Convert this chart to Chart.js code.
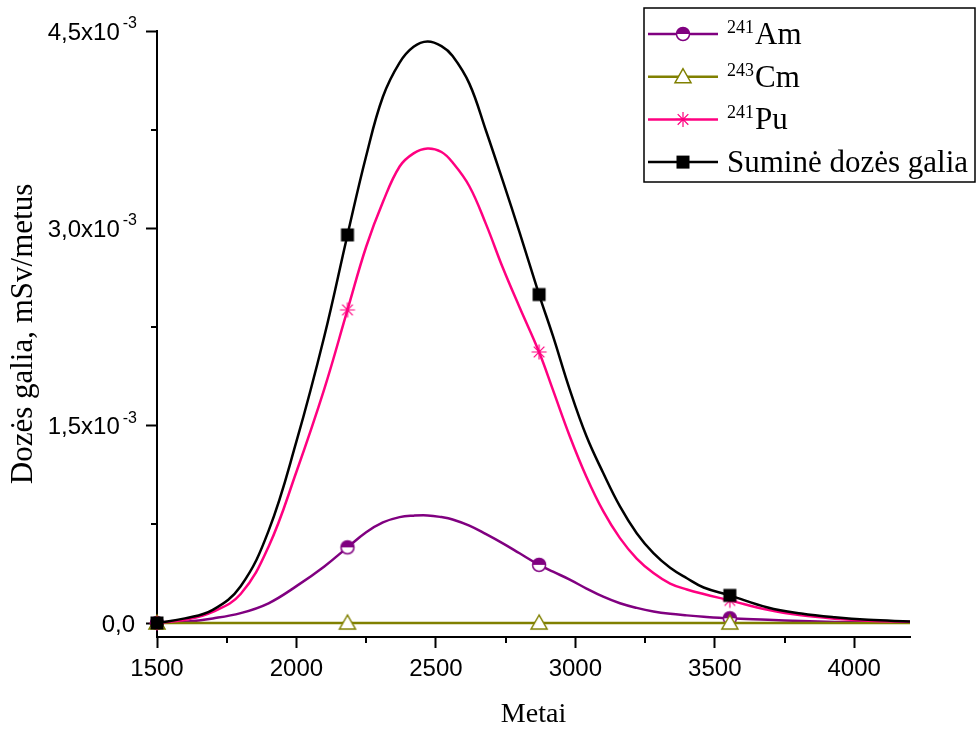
<!DOCTYPE html>
<html>
<head>
<meta charset="utf-8">
<script src="https://cdn.jsdelivr.net/npm/chart.js@4.4.0/dist/chart.umd.min.js"></script>
<style>
    html, body { margin: 0; background: #fff; }
    #wrap { width: 977px; height: 733px; }
</style>
</head>
<body>
<div id="wrap"><canvas id="doseChart"></canvas></div>
<script>
// dose rate values, in units of 10^-3 mSv/metus
const years = [1500, 1600, 1700, 1800, 1900, 2000, 2100, 2183, 2250, 2310, 2370, 2420, 2470, 2520, 2560, 2620, 2680, 2740, 2800, 2870, 2920, 2980, 3040, 3100, 3160, 3220, 3280, 3340, 3400, 3460, 3554, 3690, 3810, 3930, 4050, 4200];
const am241 = [0, 0.01, 0.035, 0.075, 0.15, 0.28, 0.43, 0.575, 0.69, 0.765, 0.805, 0.816, 0.818, 0.805, 0.787, 0.74, 0.675, 0.605, 0.53, 0.442, 0.39, 0.33, 0.262, 0.20, 0.15, 0.115, 0.088, 0.07, 0.058, 0.048, 0.036, 0.025, 0.015, 0.008, 0.005, 0.003];
const cm243 = [0, 0, 0, 0, 0, 0, 0, 0, 0, 0, 0, 0, 0, 0, 0, 0, 0, 0, 0, 0, 0, 0, 0, 0, 0, 0, 0, 0, 0, 0, 0, 0, 0, 0, 0, 0];
const pu241 = [0, 0.025, 0.085, 0.22, 0.58, 1.15, 1.78, 2.38, 2.86, 3.2, 3.47, 3.57, 3.607, 3.58, 3.5, 3.32, 3.03, 2.7, 2.4, 2.06, 1.77, 1.42, 1.11, 0.85, 0.645, 0.49, 0.38, 0.3, 0.255, 0.22, 0.172, 0.1, 0.058, 0.033, 0.018, 0.009];
const total = [0, 0.035, 0.1, 0.28, 0.7, 1.38, 2.18, 2.95, 3.55, 4.0, 4.26, 4.38, 4.42, 4.385, 4.31, 4.1, 3.74, 3.36, 2.97, 2.497, 2.18, 1.774, 1.419, 1.14, 0.886, 0.683, 0.531, 0.42, 0.34, 0.27, 0.21, 0.118, 0.072, 0.043, 0.024, 0.012];

const markerYears = [1500, 2183, 2870, 3554];
const xTicks = [1500, 2000, 2500, 3000, 3500, 4000];
const xMinorTicks = [1750, 2250, 2750, 3250, 3750];
const yTicks = [0, 1.5, 3.0, 4.5];
const yMinorTicks = [0.75, 2.25, 3.75];

const AM_COLOR = '#800080';
const CM_COLOR = '#808000';
const PU_COLOR = '#ff0080';
const SUM_COLOR = '#000000';

const SANS = '"Liberation Sans", Arial, sans-serif';
const SERIF = '"Liberation Serif", "Times New Roman", serif';

const drawAm = (ctx, x, y) => {
    ctx.beginPath();
    ctx.arc(x, y, 6.5, 0, Math.PI * 2);
    ctx.fillStyle = '#fff';
    ctx.fill();
    ctx.beginPath();
    ctx.arc(x, y, 6.5, Math.PI, Math.PI * 2);
    ctx.closePath();
    ctx.fillStyle = AM_COLOR;
    ctx.fill();
    ctx.beginPath();
    ctx.arc(x, y, 6.5, 0, Math.PI * 2);
    ctx.lineWidth = 1.5;
    ctx.strokeStyle = AM_COLOR;
    ctx.stroke();
};

const drawCm = (ctx, x, y) => {
    ctx.beginPath();
    ctx.moveTo(x, y - 8);
    ctx.lineTo(x - 8, y + 6);
    ctx.lineTo(x + 8, y + 6);
    ctx.closePath();
    ctx.fillStyle = '#fff';
    ctx.fill();
    ctx.lineWidth = 1.5;
    ctx.strokeStyle = CM_COLOR;
    ctx.stroke();
};

const drawPu = (ctx, x, y) => {
    ctx.beginPath();
    for (let i = 0; i < 4; i++) {
        const a = i * Math.PI / 4;
        ctx.moveTo(x - 7.5 * Math.cos(a), y - 7.5 * Math.sin(a));
        ctx.lineTo(x + 7.5 * Math.cos(a), y + 7.5 * Math.sin(a));
    }
    ctx.lineWidth = 1.2;
    ctx.strokeStyle = PU_COLOR;
    ctx.stroke();
};

const drawSum = (ctx, x, y) => {
    ctx.fillStyle = SUM_COLOR;
    ctx.fillRect(x - 6.5, y - 6.5, 13, 13);
};

const makeMarker = (draw) => {
    const c = document.createElement('canvas');
    c.width = 20;
    c.height = 20;
    draw(c.getContext('2d'), 10, 10);
    return c;
};

const series = [
    { sup: '241', name: 'Am', data: am241, color: AM_COLOR, draw: drawAm },
    { sup: '243', name: 'Cm', data: cm243, color: CM_COLOR, draw: drawCm },
    { sup: '241', name: 'Pu', data: pu241, color: PU_COLOR, draw: drawPu },
    { sup: '', name: 'Suminė dozės galia', data: total, color: SUM_COLOR, draw: drawSum },
];

const isMarker = (ctx) => markerYears.includes(years[ctx.dataIndex]);

const datasets = series.map((s, i) => ({
    label: s.sup + s.name,
    data: years.map((yr, j) => ({ x: yr, y: s.data[j] })),
    borderColor: s.color,
    backgroundColor: s.color,
    borderWidth: 2.5,
    tension: 0.4,
    pointStyle: makeMarker(s.draw),
    pointRadius: (ctx) => isMarker(ctx) ? 6 : 0,
    order: series.length - i,
    clip: false,
}));

// minor ticks, y tick labels with exponent, and the boxed legend
const extrasPlugin = {
    id: 'extras',
    afterDraw(chart) {
        const ctx = chart.ctx;
        const xs = chart.scales.x;
        const ys = chart.scales.y;
        ctx.save();
        ctx.strokeStyle = '#000';
        ctx.lineWidth = 2;
        ctx.beginPath();
        xMinorTicks.forEach((v) => {
            const px = Math.round(xs.getPixelForValue(v));
            ctx.moveTo(px, xs.top);
            ctx.lineTo(px, xs.top + 6);
        });
        yMinorTicks.forEach((v) => {
            const py = Math.round(ys.getPixelForValue(v));
            ctx.moveTo(ys.right, py);
            ctx.lineTo(ys.right - 6, py);
        });
        ctx.stroke();

        ctx.fillStyle = '#000';
        ctx.textBaseline = 'alphabetic';
        ctx.textAlign = 'left';
        yTicks.forEach((v) => {
            const py = ys.getPixelForValue(v);
            const main = v.toFixed(1).replace('.', ',') + (v !== 0 ? 'x10' : '');
            const sup = v !== 0 ? '-3' : '';
            ctx.font = '24px ' + SANS;
            const mw = ctx.measureText(main).width;
            ctx.font = '16px ' + SANS;
            const sw = sup ? ctx.measureText(sup).width + 3 : 0;
            const right = v !== 0 ? 137 : 135;
            const x0 = right - mw - sw;
            ctx.font = '24px ' + SANS;
            ctx.fillText(main, x0, py + 8.5);
            if (sup) {
                ctx.font = '16px ' + SANS;
                ctx.fillText(sup, x0 + mw + 3, py - 3);
            }
        });

        // legend
        ctx.lineWidth = 1.5;
        ctx.strokeStyle = '#000';
        ctx.strokeRect(644, 8, 331, 174);
        series.forEach((s, i) => {
            const ly = 34 + i * 42.7;
            ctx.beginPath();
            ctx.moveTo(648, ly);
            ctx.lineTo(718, ly);
            ctx.lineWidth = 2.5;
            ctx.strokeStyle = s.color;
            ctx.stroke();
            s.draw(ctx, 683, ly);
            ctx.fillStyle = '#000';
            let tx = 727;
            if (s.sup) {
                ctx.font = '18px ' + SERIF;
                ctx.fillText(s.sup, tx, ly - 1);
                tx += ctx.measureText(s.sup).width + 1;
            }
            ctx.font = '31px ' + SERIF;
            ctx.fillText(s.name, tx, ly + 10);
        });
        ctx.restore();
    },
};

new Chart(document.getElementById('doseChart'), {
    type: 'line',
    data: { datasets },
    options: {
        responsive: true,
        maintainAspectRatio: false,
        animation: false,
        layout: { padding: { top: 31, right: 67, left: 0, bottom: 0 } },
        plugins: { legend: { display: false }, tooltip: { enabled: false } },
        scales: {
            x: {
                type: 'linear',
                min: 1500,
                max: 4200,
                afterBuildTicks: (scale) => { scale.ticks = xTicks.map((v) => ({ value: v })); },
                afterFit: (scale) => { scale.height = 96; },
                ticks: {
                    autoSkip: false,
                    maxRotation: 0,
                    padding: 7,
                    color: '#000',
                    font: { family: SANS, size: 24 },
                    callback: (v) => String(v),
                },
                grid: { drawOnChartArea: false, tickLength: 11, tickWidth: 2, tickColor: '#000' },
                border: { color: '#000', width: 2 },
                title: {
                    display: true,
                    text: 'Metai',
                    color: '#000',
                    padding: { top: 0, bottom: 2 },
                    font: { family: SERIF, size: 28 },
                },
            },
            y: {
                type: 'linear',
                min: -0.1064,
                max: 4.5,
                afterBuildTicks: (scale) => { scale.ticks = yTicks.map((v) => ({ value: v })); },
                afterFit: (scale) => { scale.width = 157; },
                ticks: { display: false },
                grid: { drawOnChartArea: false, tickLength: 11, tickWidth: 2, tickColor: '#000' },
                border: { color: '#000', width: 2 },
                title: {
                    display: true,
                    text: 'Dozės galia, mSv/metus',
                    color: '#000',
                    padding: { top: 5, bottom: 0 },
                    font: { family: SERIF, size: 31 },
                },
            },
        },
    },
    plugins: [extrasPlugin],
});
</script>
</body>
</html>
